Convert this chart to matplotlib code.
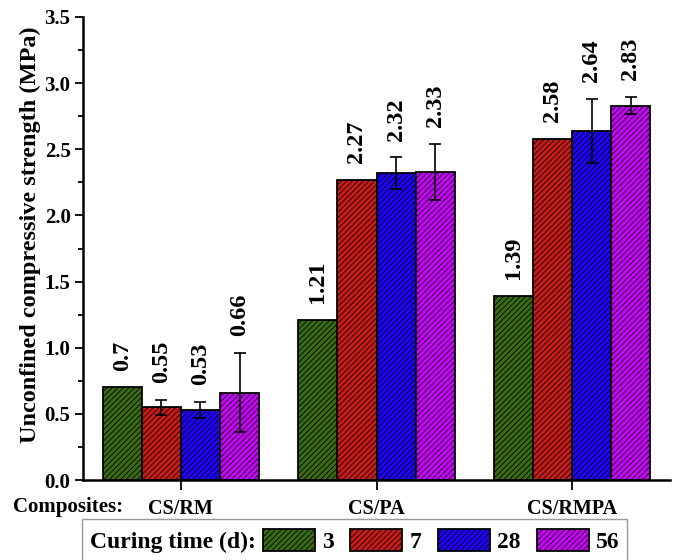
import numpy as np
import matplotlib
matplotlib.use('Agg')
import matplotlib.pyplot as plt
from matplotlib.patches import Rectangle
from matplotlib.ticker import MultipleLocator

plt.rcParams['font.family'] = 'Liberation Serif'
plt.rcParams['font.weight'] = 'bold'
plt.rcParams['axes.labelweight'] = 'bold'
plt.rcParams['hatch.linewidth'] = 0.6

composites = ['CS/RM', 'CS/PA', 'CS/RMPA']
days = ['3', '7', '28', '56']
strength = {
    '3': [0.70, 1.21, 1.39],
    '7': [0.55, 2.27, 2.58],
    '28': [0.53, 2.32, 2.64],
    '56': [0.66, 2.33, 2.83],
}
errors = {
    '3': [0.0, 0.0, 0.0],
    '7': [0.055, 0.0, 0.0],
    '28': [0.06, 0.12, 0.24],
    '56': [0.30, 0.21, 0.065],
}
labels = {
    '3': ['0.7', '1.21', '1.39'],
    '7': ['0.55', '2.27', '2.58'],
    '28': ['0.53', '2.32', '2.64'],
    '56': ['0.66', '2.33', '2.83'],
}
colors = ['#3b6b12', '#cc1a1a', '#2200ff', '#cc00ff']

fig = plt.figure(figsize=(6.76, 5.6), dpi=100)
ax = fig.add_axes([83/676, 1-480/560, (670-83)/676, (480-17)/560])

x = np.arange(len(composites))
w = 0.2
for i, d in enumerate(days):
    xs = x + (i - 1.5) * w
    vals = np.array(strength[d])
    errs = np.array(errors[d])
    ax.bar(xs, vals, w, color=colors[i], edgecolor='black', linewidth=1.3,
           hatch='//////', label=d, zorder=2)
    m = errs > 0
    ax.errorbar(xs[m], vals[m], yerr=errs[m], fmt='none', ecolor='black',
                elinewidth=1.2, capsize=4, capthick=1.2, zorder=3)
    for xi, v, e, t in zip(xs, vals, errs, labels[d]):
        ax.annotate(t, (xi, v + e), xytext=(0, 12), textcoords='offset points',
                    rotation=90, ha='center', va='bottom', fontsize=17.5,
                    fontweight='bold')

ax.set_xlim(-0.5, 2.5)
ax.set_ylim(0, 3.5)
ax.yaxis.set_major_locator(MultipleLocator(0.5))
ax.yaxis.set_minor_locator(MultipleLocator(0.25))
ax.set_xticks(x)
ax.set_xticklabels(composites, fontsize=14.5)
ax.tick_params(axis='x', length=7, width=1.3, pad=7)
ax.tick_params(axis='y', which='major', length=6, width=1.3, labelsize=15, pad=3)
ax.tick_params(axis='y', which='minor', length=3.5, width=1.3)
for s in ['top', 'right']:
    ax.spines[s].set_visible(False)
for s in ['left', 'bottom']:
    ax.spines[s].set_linewidth(1.8)
ax.set_ylabel('Unconfined compressive strength (MPa)', fontsize=17.5)
ax.yaxis.set_label_coords(-0.072, 0.53)

fig.text(13/676, 1-507/560, 'Composites:', fontsize=15, ha='left', va='center')

# legend frame with inline title
fig.add_artist(Rectangle((82/676, -0.05), (627-82)/676, 0.05 + (560-519)/560,
                         transform=fig.transFigure, facecolor='white',
                         edgecolor='#999999', linewidth=1.0))
fig.text(90/676, 1-542/560, 'Curing time (d):', fontsize=17, ha='left', va='center')
fig.legend(loc='center left', bbox_to_anchor=(263/676, 1-541/560), ncol=4,
           frameon=False, fontsize=17, handlelength=2.2, handleheight=1.1,
           handletextpad=0.3, columnspacing=0.7, borderpad=0, borderaxespad=0)

fig.savefig('out.png', dpi=100)
